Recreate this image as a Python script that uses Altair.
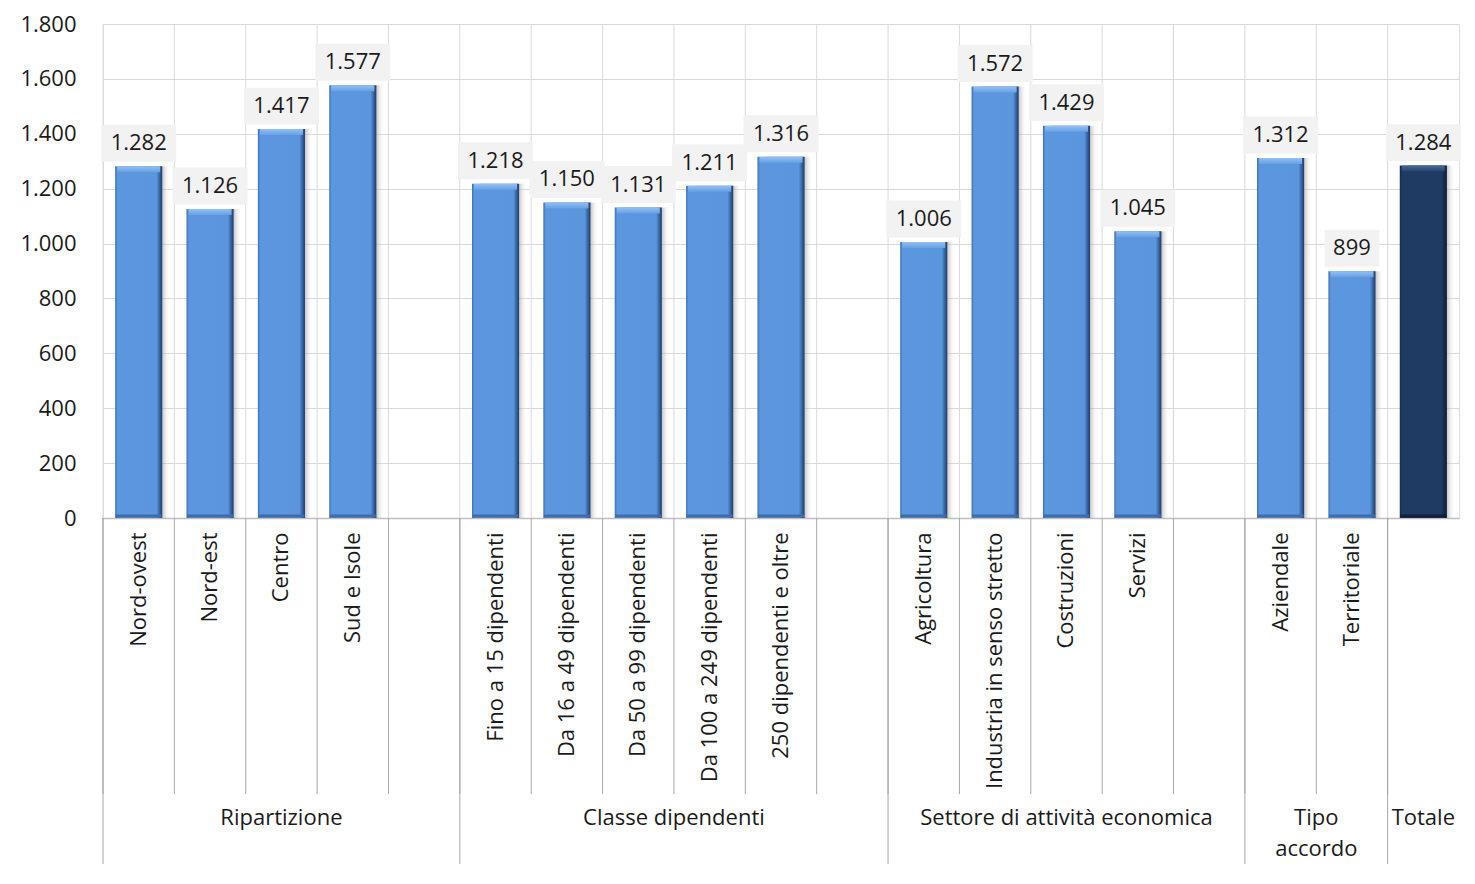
import math
import altair as alt
import pandas as pd

# ---------------- data ----------------
categories = [
    "Nord-ovest", "Nord-est", "Centro", "Sud e Isole",
    "Fino a 15 dipendenti", "Da 16 a 49 dipendenti", "Da 50 a 99 dipendenti",
    "Da 100 a 249 dipendenti", "250 dipendenti e oltre",
    "Agricoltura", "Industria in senso stretto", "Costruzioni", "Servizi",
    "Aziendale", "Territoriale",
    "Totale",
]
values = [1282, 1126, 1417, 1577,
          1218, 1150, 1131, 1211, 1316,
          1006, 1572, 1429, 1045,
          1312, 899,
          1284]
groups = ["Ripartizione"] * 4 + ["Classe dipendenti"] * 5 + \
         ["Settore di attività economica"] * 4 + ["Tipo accordo"] * 2 + ["Totale"]
group_order = ["Ripartizione", "Classe dipendenti", "Settore di attività economica",
               "Tipo accordo", "Totale"]
group_text = ["Ripartizione", "Classe dipendenti", "Settore di attività economica",
              "Tipo\naccordo", "Totale"]
spacers = [" ", "  ", "   "]          # empty slots after the first three groups
y_ticks = [0, 200, 400, 600, 800, 1000, 1200, 1400, 1600, 1800]

# ---------------- slot layout built from the lists ----------------
slots, sep_slots, anchors, edges = [], [], [], []
for i, g in enumerate(group_order):
    members = [c for c, gg in zip(categories, groups) if gg == g]
    start = len(slots)
    slots += members
    if i < len(spacers):
        slots.append(spacers[i])
    end = len(slots)
    sep_slots.append(slots[start])
    mid = (start + end) / 2
    if mid == int(mid):
        anchors.append(slots[int(mid)]); edges.append(True)
    else:
        anchors.append(slots[int(math.floor(mid))]); edges.append(False)

df = pd.DataFrame({"category": categories, "value": values, "group": groups})
slot_df = pd.DataFrame({"slot": slots})
sep_df = pd.DataFrame({"slot": sep_slots})
glab_df = pd.DataFrame({"slot": anchors, "text": group_text, "edge": edges})

# ---------------- styling ----------------
W, H = 1356, 494
FONT = "Open Sans"
TXT = "#1a1a1a"
BAND = 0.66

xscale = alt.Scale(type="band", domain=slots, paddingInner=0, paddingOuter=0)
yscale = alt.Scale(domain=[0, 1800], nice=False, zero=True)

xaxis = alt.Axis(title=None, ticks=False, grid=False, domain=True,
                 domainColor="#BFBFBF", domainWidth=1.5,
                 labelAngle=270, labelAlign="right", labelBaseline="middle",
                 labelPadding=14, labelFontSize=22, labelFont=FONT,
                 labelColor=TXT, labelLimit=400, labelOverlap=False,
                 labelExpr="datum.label == 'Totale' ? '' : datum.label")
yaxis = alt.Axis(title=None, values=y_ticks, ticks=False, domain=False,
                 grid=True, gridColor="#D9D9D9", gridWidth=1,
                 labelPadding=27, labelFontSize=22, labelFont=FONT, labelColor=TXT,
                 labelExpr="replace(format(datum.value, ','), ',', '.')")

def X(field, **kw):
    return alt.X(field, scale=xscale, axis=xaxis, **kw)

def Y(field):
    return alt.Y(field, scale=yscale, axis=yaxis)

blue_grad = {"gradient": "linear", "x1": 0, "y1": 0, "x2": 1, "y2": 0,
             "stops": [{"offset": 0, "color": "#3E6FB2"},
                       {"offset": 0.05, "color": "#5B96DE"},
                       {"offset": 0.88, "color": "#5A95DD"},
                       {"offset": 0.95, "color": "#34609C"},
                       {"offset": 1, "color": "#1E3B66"}]}
dark_grad = {"gradient": "linear", "x1": 0, "y1": 0, "x2": 1, "y2": 0,
             "stops": [{"offset": 0, "color": "#142947"},
                       {"offset": 0.05, "color": "#1F3A63"},
                       {"offset": 0.88, "color": "#1F3A63"},
                       {"offset": 0.95, "color": "#152A4A"},
                       {"offset": 1, "color": "#0C1930"}]}
blue_bevel = {"gradient": "linear", "x1": 0, "y1": 0, "x2": 0, "y2": 1,
              "stops": [{"offset": 0, "color": "#94C0F3"},
                        {"offset": 1, "color": "#66A0E4"}]}
dark_bevel = {"gradient": "linear", "x1": 0, "y1": 0, "x2": 0, "y2": 1,
              "stops": [{"offset": 0, "color": "#4A6A96"},
                        {"offset": 1, "color": "#25426D"}]}
shadow_grad = {"gradient": "linear", "x1": 0, "y1": 0, "x2": 1, "y2": 0,
               "stops": [{"offset": 0, "color": "#7A7A7A"},
                         {"offset": 0.8, "color": "#7A7A7A"},
                         {"offset": 1, "color": "rgba(255,255,255,0)"}]}

base = alt.Chart(df)

# vertical slot lines in the plot, and below it
grid_rules = alt.Chart(slot_df).mark_rule(color="#D9D9D9", strokeWidth=1).encode(
    x=X("slot:N", bandPosition=0), y=alt.value(0), y2=alt.value(H))
tick_rules = alt.Chart(slot_df).mark_rule(color="#A6A6A6", strokeWidth=1).encode(
    x=X("slot:N", bandPosition=0), y=alt.value(H), y2=alt.value(H + 276))
sep_rules = alt.Chart(sep_df).mark_rule(color="#A6A6A6", strokeWidth=1).encode(
    x=X("slot:N", bandPosition=0), y=alt.value(H), y2=alt.value(H + 346))

shadow = base.mark_bar(width={"band": BAND}, xOffset=8, color=shadow_grad,
                       opacity=0.6).encode(x=X("category:N"), y=Y("value:Q"))

is_tot = "datum.category == 'Totale'"
bars_blue = base.transform_filter("!(" + is_tot + ")").mark_bar(
    width={"band": BAND}, color=blue_grad).encode(x=X("category:N"), y=Y("value:Q"))
bars_dark = base.transform_filter(is_tot).mark_bar(
    width={"band": BAND}, color=dark_grad).encode(x=X("category:N"), y=Y("value:Q"))

bevel_blue = base.transform_filter("!(" + is_tot + ")").mark_tick(
    thickness=6, size=43, yOffset=3, color=blue_bevel, opacity=1).encode(
    x=X("category:N"), y=Y("value:Q"))
bevel_dark = base.transform_filter(is_tot).mark_tick(
    thickness=6, size=43, yOffset=3, color=dark_bevel, opacity=1).encode(
    x=X("category:N"), y=Y("value:Q"))

bottom_blue = base.transform_filter("!(" + is_tot + ")").transform_calculate(
    zero="0").mark_tick(thickness=3, size=46, yOffset=-2, color="#3F6DAA",
                        opacity=1).encode(x=X("category:N"), y=Y("zero:Q"))
bottom_dark = base.transform_filter(is_tot).transform_calculate(
    zero="0").mark_tick(thickness=3, size=46, yOffset=-2, color="#111F38",
                        opacity=1).encode(x=X("category:N"), y=Y("zero:Q"))

box_wide = base.transform_filter("datum.value >= 1000").mark_point(
    shape="M-1,-0.493L1,-0.493L1,0.493L-1,0.493Z", size=75 * 75, filled=True,
    color="#F2F2F2", opacity=1, strokeWidth=0, yOffset=-23).encode(
    x=X("category:N"), y=Y("value:Q"))
box_narrow = base.transform_filter("datum.value < 1000").mark_point(
    shape="M-1,-0.673L1,-0.673L1,0.673L-1,0.673Z", size=55 * 55, filled=True,
    color="#F2F2F2", opacity=1, strokeWidth=0, yOffset=-23).encode(
    x=X("category:N"), y=Y("value:Q"))

value_text = base.transform_calculate(
    label="replace(format(datum.value, ','), ',', '.')").mark_text(
    font=FONT, fontSize=22, color=TXT, baseline="middle", align="center",
    yOffset=-23).encode(x=X("category:N"), y=Y("value:Q"), text="label:N")

glab_center = alt.Chart(glab_df).transform_filter("!datum.edge").mark_text(
    font=FONT, fontSize=22, color=TXT, baseline="top", align="center",
    lineBreak="\n", lineHeight=31).encode(
    x=X("slot:N"), y=alt.value(H + 290), text="text:N")
glab_edge = alt.Chart(glab_df).transform_filter("datum.edge").mark_text(
    font=FONT, fontSize=22, color=TXT, baseline="top", align="center",
    lineBreak="\n", lineHeight=31).encode(
    x=X("slot:N", bandPosition=0), y=alt.value(H + 290), text="text:N")

chart = alt.layer(
    grid_rules, tick_rules, sep_rules, shadow, bars_blue, bars_dark,
    bevel_blue, bevel_dark, bottom_blue, bottom_dark,
    box_wide, box_narrow, value_text, glab_center, glab_edge,
).properties(
    width=W, height=H,
    autosize=alt.AutoSizeParams(type="none"),
    padding={"left": 95, "top": 16, "right": 4, "bottom": 346},
).configure_view(stroke=None).configure(background="white")

chart.save("out.html", embed_options={"renderer": "svg", "actions": False})
